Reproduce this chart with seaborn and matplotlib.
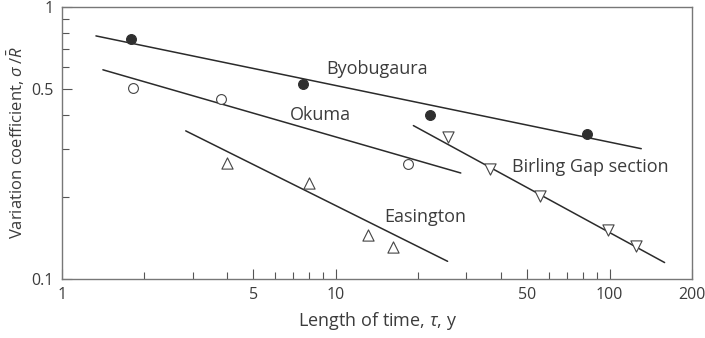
import numpy as np
import pandas as pd
import matplotlib
matplotlib.use("Agg")
import matplotlib.pyplot as plt
import seaborn as sns
from matplotlib.ticker import FixedLocator, NullFormatter, FixedFormatter

# measured points (length of time tau [y], variation coefficient)
byo_x = [1.78, 7.56, 22.1, 82.6]
byo_y = [0.761, 0.520, 0.402, 0.340]
oku_x = [1.81, 3.80, 18.3]
oku_y = [0.502, 0.458, 0.264]
eas_x = [3.99, 7.97, 13.1, 16.2]
eas_y = [0.266, 0.225, 0.145, 0.131]
bir_x = [25.6, 36.5, 55.5, 98.6, 124.5]
bir_y = [0.331, 0.254, 0.202, 0.151, 0.1325]

# fitted lines (end points)
byo_fit_x = [1.33, 130.5]
byo_fit_y = [0.782, 0.301]
oku_fit_x = [1.41, 28.6]
oku_fit_y = [0.587, 0.245]
eas_fit_x = [2.83, 25.6]
eas_fit_y = [0.350, 0.116]
bir_fit_x = [19.2, 158.8]
bir_fit_y = [0.366, 0.1148]

x_major = [1, 5, 10, 50, 100, 200]
x_minor = [2, 3, 4, 6, 7, 8, 9, 20, 30, 40, 60, 70, 80, 90]
y_major = [0.1, 0.5, 1]
y_minor = [0.2, 0.3, 0.4, 0.6, 0.7, 0.8, 0.9]

sns.set_theme(style="ticks")
plt.rcParams['font.family'] = ['Open Sans', 'DejaVu Sans']
plt.rcParams['mathtext.fontset'] = 'custom'
plt.rcParams['mathtext.rm'] = 'Open Sans'
plt.rcParams['mathtext.it'] = 'Open Sans:italic'

ink = '#2b2b2b'
txt = '#3c3c3c'

fig = plt.figure(figsize=(7.05, 3.38), dpi=100)
ax = fig.add_axes([0.088, 0.175, 0.8936, 0.8047])

fits = [(byo_fit_x, byo_fit_y), (oku_fit_x, oku_fit_y),
        (eas_fit_x, eas_fit_y), (bir_fit_x, bir_fit_y)]
for fx, fy in fits:
    sns.lineplot(x=fx, y=fy, ax=ax, color=ink, lw=1.1)

sns.scatterplot(x=byo_x, y=byo_y, ax=ax, marker='o', s=50, color='#2f2f2f',
                edgecolor='#2f2f2f', linewidth=0.8, zorder=3)
sns.scatterplot(x=oku_x, y=oku_y, ax=ax, marker='o', s=50, facecolor='white',
                edgecolor='#444444', linewidth=0.8, zorder=3)
sns.scatterplot(x=eas_x, y=eas_y, ax=ax, marker='^', s=65, facecolor='white',
                edgecolor='#444444', linewidth=0.8, zorder=3)
sns.scatterplot(x=bir_x, y=bir_y, ax=ax, marker='v', s=65, facecolor='white',
                edgecolor='#444444', linewidth=0.8, zorder=3)

ax.set_xscale('log')
ax.set_yscale('log')
ax.set_xlim(1, 200)
ax.set_ylim(0.1, 1)

ax.xaxis.set_major_locator(FixedLocator(x_major))
ax.xaxis.set_major_formatter(FixedFormatter([str(v) for v in x_major]))
ax.xaxis.set_minor_locator(FixedLocator(x_minor))
ax.xaxis.set_minor_formatter(NullFormatter())
ax.yaxis.set_major_locator(FixedLocator(y_major))
ax.yaxis.set_major_formatter(FixedFormatter([str(v) for v in y_major]))
ax.yaxis.set_minor_locator(FixedLocator(y_minor))
ax.yaxis.set_minor_formatter(NullFormatter())

ax.tick_params(which='major', direction='in', length=7.5, width=0.8,
               color='#555555', labelsize=11.5, labelcolor=txt, pad=6)
ax.tick_params(which='minor', direction='in', length=4.8, width=0.8,
               color='#555555')
for sp in ax.spines.values():
    sp.set_color('#777777')
    sp.set_linewidth(1.0)

ax.set_xlabel(r'Length of time, $\tau$, y', fontsize=13, color=txt, labelpad=5)
ax.set_ylabel(r'Variation coefficient, $\sigma\,/\bar{R}$', fontsize=12,
              color=txt, labelpad=3)

ax.text(10 ** ((326.7 - 62) / 274), 10 ** (-(69 - 7) / 272), 'Byobugaura',
        fontsize=13, color=txt, va='center', ha='left')
ax.text(10 ** ((290 - 62) / 274), 10 ** (-(115 - 7) / 272), 'Okuma',
        fontsize=13, color=txt, va='center', ha='left')
ax.text(10 ** ((384 - 62) / 274), 10 ** (-(216.7 - 7) / 272), 'Easington',
        fontsize=13, color=txt, va='center', ha='left')
ax.text(10 ** ((512.7 - 62) / 274), 10 ** (-(167 - 7) / 272), 'Birling Gap section',
        fontsize=13, color=txt, va='center', ha='left')

fig.savefig('out.png', dpi=100)
